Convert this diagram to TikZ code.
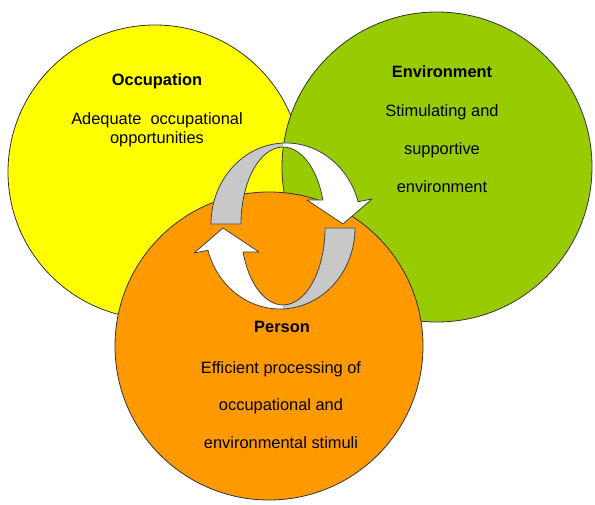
\documentclass[tikz,border=0pt]{standalone}
\usepackage{fontspec}
\setmainfont{Liberation Sans}

\definecolor{occyellow}{HTML}{FFFF00}
\definecolor{envgreen}{HTML}{99CC00}
\definecolor{perorange}{HTML}{FF9900}
\definecolor{tailgrey}{HTML}{C8C8C8}

\begin{document}
\begin{tikzpicture}[x=1pt, y=-1pt,
    sphere/.style ={circle, draw=black!80, line width=0.8pt, inner sep=0pt},
    heading/.style ={font=\bfseries\fontsize{16.4}{20}\selectfont},
    detail/.style ={align=center, inner sep=0pt},
    outline/.style ={draw=black!75, line width=0.8pt, line join=round},
    cyclearrow/.style ={insert path={
      (-72,-2) arc[start angle=180, end angle=344, x radius=75, y radius=81]
      -- (89,-27) -- (60,-2) -- (24,-26) -- (39.9,-26)
      arc[start angle=341.8, end angle=180, x radius=42, y radius=77] -- cycle}}]
   \useasboundingbox (0,0) rectangle (595,505);
   % the three spheres
   \node[sphere, fill=occyellow, minimum size=294pt] (occ) at (155,172) {};
   \node[sphere, fill=envgreen, minimum size=310pt] (env) at (437,167) {};
   \node[sphere, fill=perorange, minimum size=308pt] (per) at (269,346) {};
   % the two arrows of the cycle
   \foreach \r in {0,180} {
     \begin{scope}[shift={(283,226)}, rotate=\r]
       \fill[white, cyclearrow];
       \begin{scope}
         \clip (-100,-100) rectangle (0,10);
         \fill[tailgrey, cyclearrow];
       \end{scope}
       \path[outline, cyclearrow];
     \end{scope}
   }
   % labels
   \node[heading] (occT) at (157,81) {Occupation};
   \node[detail, font=\fontsize{16.4}{19}\selectfont] (occB) at (157,130)
     {Adequate\ \ occupational\\opportunities};
   \node[heading] (envT) at (442,72) {Environment};
   \node[detail, font=\fontsize{16.4}{38}\selectfont] (envB) at (442,149)
     {Stimulating and\\supportive\\environment};
   \node[heading] (perT) at (282,327) {Person};
   \node[detail, font=\fontsize{16.4}{37.5}\selectfont] (perB) at (281,405)
     {Efficient processing of\\occupational and\\environmental stimuli};
 \end{tikzpicture}
\end{document}
